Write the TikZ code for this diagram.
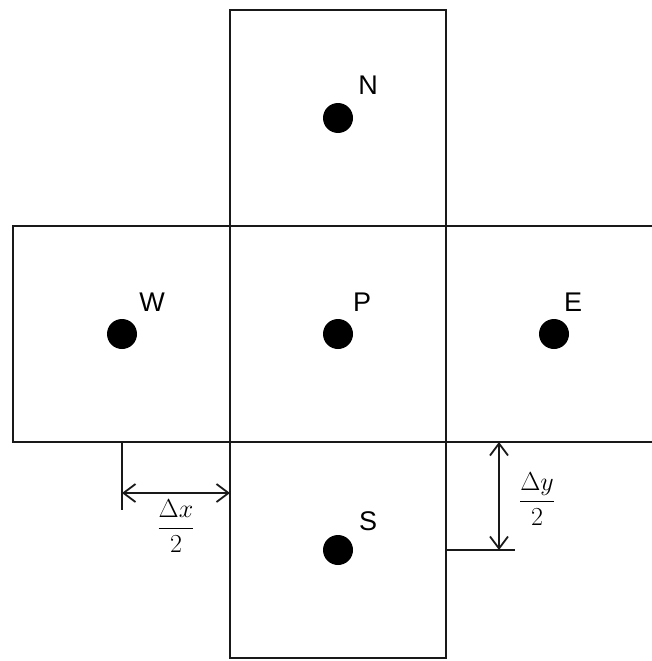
\documentclass[tikz,border=0pt]{standalone}
\usepackage{fix-cm}
\usepackage{fontspec}
\setsansfont{Liberation Sans}
\usepackage{amsmath}
\usetikzlibrary{arrows.meta}
\begin{document}
\begin{tikzpicture}[x=1pt,y=-1pt,
  cell/.style={draw=black!90,line width=1.8pt},
  pt/.style={circle,fill=black,inner sep=0pt,minimum size=30pt},
  lbl/.style={font=\sffamily\fontsize{27}{30}\selectfont,inner sep=0pt},
  dimlbl/.style={font=\fontsize{26}{30}\selectfont,inner sep=0pt},
  dim/.style={line width=1.8pt,black!90},
  dimarrow/.style={dim,{Straight Barb[length=12pt,width=18pt,line width=1.8pt]}-{Straight Barb[length=12pt,width=18pt,line width=1.8pt]}}]
\useasboundingbox (0,0) rectangle (651,661);
% cells
\draw[cell] (230,10) rectangle (446,226);
\draw[cell] (13,226) rectangle (230,442);
\draw[cell] (230,226) rectangle (446,442);
\draw[cell] (230,442) rectangle (446,658);
\draw[cell] (652,226) -- (446,226) -- (446,442) -- (652,442);
% points
\node[pt] (N) at (338,118) {};
\node[pt] (W) at (122,334) {};
\node[pt] (P) at (338,334) {};
\node[pt] (E) at (554,334) {};
\node[pt] (S) at (338,550) {};
\node[lbl] (lN) at (368,85) {N};
\node[lbl] (lW) at (152,302) {W};
\node[lbl] (lP) at (362,302) {P};
\node[lbl] (lE) at (573,302) {E};
\node[lbl] (lS) at (368,521) {S};
% dimension dx/2
\coordinate (xa) at (122,442);
\coordinate (xb) at (122,510);
\coordinate (xl) at (122,493);
\coordinate (xr) at (230,493);
\draw[dim] (xa) -- (xb);
\draw[dimarrow] (xl) -- (xr);
\node[dimlbl] (dx) at (176,526) {$\dfrac{\Delta x}{2}$};
% dimension dy/2
\coordinate (ya) at (446,550);
\coordinate (yb) at (515,550);
\coordinate (yt) at (499,442);
\coordinate (ybt) at (499,550);
\draw[dim] (ya) -- (yb);
\draw[dimarrow] (yt) -- (ybt);
\node[dimlbl] (dy) at (537,499) {$\dfrac{\Delta y}{2}$};
\end{tikzpicture}
\end{document}
